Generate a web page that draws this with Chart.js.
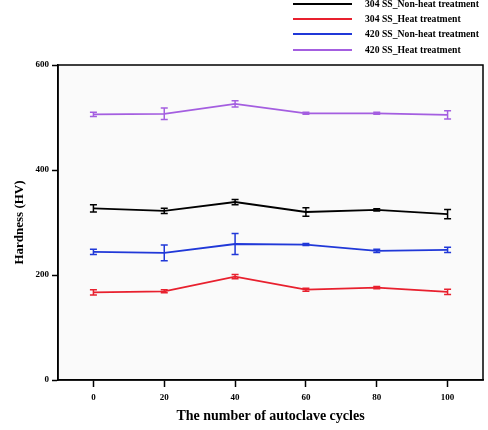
<!DOCTYPE html>
<html>
<head>
<meta charset="utf-8">
<script src="https://cdn.jsdelivr.net/npm/chart.js@4.4.1/dist/chart.umd.min.js"></script>
<style>
  html, body { margin: 0; padding: 0; background: #fff; }
  #wrap { position: relative; width: 488px; height: 430px; }
  #legend { position: absolute; left: 0; top: 0; width: 488px; height: 60px; }
  .item { position: absolute; left: 293px; height: 14px; }
  .item .ln { position: absolute; left: 0; top: 6px; width: 59px; height: 2px; }
  .item .tx { position: absolute; left: 72px; top: 0; white-space: nowrap;
    font: bold 9.7px "Liberation Serif", "DejaVu Serif", serif; line-height: 14px; color: #000; }
</style>
</head>
<body>
<div id="wrap">
  <canvas id="myChart" width="488" height="430"></canvas>
  <div id="legend"></div>
</div>
<script>
// autoclave cycles on x
const cycles = [0, 20, 40, 60, 80, 100];
const xTicks = [0, 20, 40, 60, 80, 100];
const yTicks = [0, 200, 400, 600];

const seriesNames = ['304 SS_Non-heat treatment', '304 SS_Heat treatment',
                     '420 SS_Non-heat treatment', '420 SS_Heat treatment'];
const ss304Non   = [327, 322, 339, 320, 324, 316];
const ss304NonEr = [7, 5, 5, 8, 2, 9];
const ss304Heat   = [167, 169, 197, 172, 176, 168];
const ss304HeatEr = [5, 3, 4, 3, 2, 5];
const ss420Non   = [244, 242, 259, 258, 246, 248];
const ss420NonEr = [5, 15, 20, 2, 3, 5];
const ss420Heat   = [506, 507, 526, 508, 508, 505];
const ss420HeatEr = [4, 11, 6, 2, 2, 8];

const colors = ['#000000', '#e8202e', '#2038d8', '#a45ee0'];
const values = [ss304Non, ss304Heat, ss420Non, ss420Heat];
const errors = [ss304NonEr, ss304HeatEr, ss420NonEr, ss420HeatEr];

const serif = '"Liberation Serif", "DejaVu Serif", serif';

// error bars drawn through the y scale
const errorBars = {
  id: 'errorBars',
  beforeDraw(chart) {
    const a = chart.chartArea, ctx = chart.ctx;
    ctx.save();
    ctx.fillStyle = '#fafafa';
    ctx.fillRect(a.left, a.top, a.right - a.left, a.bottom - a.top);
    ctx.restore();
  },
  afterDatasetsDraw(chart) {
    const ctx = chart.ctx, xs = chart.scales.x, ys = chart.scales.y;
    ctx.save();
    chart.data.datasets.forEach((ds, i) => {
      ctx.strokeStyle = ds.borderColor;
      ctx.lineWidth = 1.5;
      ds.data.forEach((p, j) => {
        const e = errors[i][j];
        const px = xs.getPixelForValue(p.x);
        const y1 = ys.getPixelForValue(p.y + e);
        const y2 = ys.getPixelForValue(p.y - e);
        ctx.beginPath();
        ctx.moveTo(px, y1); ctx.lineTo(px, y2);
        ctx.moveTo(px - 3.5, y1); ctx.lineTo(px + 3.5, y1);
        ctx.moveTo(px - 3.5, y2); ctx.lineTo(px + 3.5, y2);
        ctx.stroke();
      });
    });
    // frame round the plot
    const a = chart.chartArea;
    ctx.strokeStyle = '#000';
    ctx.lineWidth = 1.5;
    ctx.strokeRect(a.left, a.top, a.right - a.left, a.bottom - a.top);
    ctx.restore();
  }
};

const ctx = document.getElementById('myChart').getContext('2d');
const chart = new Chart(ctx, {
  type: 'line',
  data: {
    datasets: values.map((v, i) => ({
      label: seriesNames[i],
      data: cycles.map((c, j) => ({ x: c, y: v[j] })),
      borderColor: colors[i],
      backgroundColor: colors[i],
      borderWidth: 1.8,
      pointRadius: 0,
      tension: 0
    }))
  },
  options: {
    responsive: false,
    animation: false,
    layout: { padding: { top: 65, right: 5, left: 0, bottom: 0 } },
    plugins: { legend: { display: false }, tooltip: { enabled: false } },
    scales: {
      x: {
        type: 'linear',
        min: -10,
        max: 110,
        afterBuildTicks: s => { s.ticks = xTicks.map(v => ({ value: v })); },
        afterFit: s => { s.height = 50; },
        grid: { drawOnChartArea: false, drawTicks: true, tickLength: 7, tickColor: '#000', tickWidth: 1.5 },
        border: { color: '#000', width: 1.5 },
        ticks: { color: '#000', padding: 5, font: { family: serif, size: 9, weight: 'bold' } },
        title: { display: true, text: 'The number of autoclave cycles', color: '#000',
                 padding: { top: 0, bottom: 5 }, font: { family: serif, size: 14, weight: 'bold' } }
      },
      y: {
        min: 0,
        max: 600,
        afterBuildTicks: s => { s.ticks = yTicks.map(v => ({ value: v })); },
        afterFit: s => { s.width = 58; },
        grid: { drawOnChartArea: false, drawTicks: true, tickLength: 6, tickColor: '#000', tickWidth: 1.5 },
        border: { color: '#000', width: 1.5 },
        ticks: { color: '#000', padding: 3, font: { family: serif, size: 9, weight: 'bold' } },
        title: { display: true, text: 'Hardness (HV)', color: '#000',
                 padding: { top: 12, bottom: 0 }, font: { family: serif, size: 13, weight: 'bold' } }
      }
    }
  },
  plugins: [errorBars]
});

// legend stacked in one column above the plot
const legendRows = [4, 19, 34, 50];
const legend = document.getElementById('legend');
chart.data.datasets.forEach((ds, i) => {
  const item = document.createElement('div');
  item.className = 'item';
  item.style.top = (legendRows[i] - 7) + 'px';
  item.innerHTML = '<div class="ln" style="background:' + ds.borderColor + '"></div>' +
                   '<div class="tx">' + ds.label + '</div>';
  legend.appendChild(item);
});
</script>
</body>
</html>
